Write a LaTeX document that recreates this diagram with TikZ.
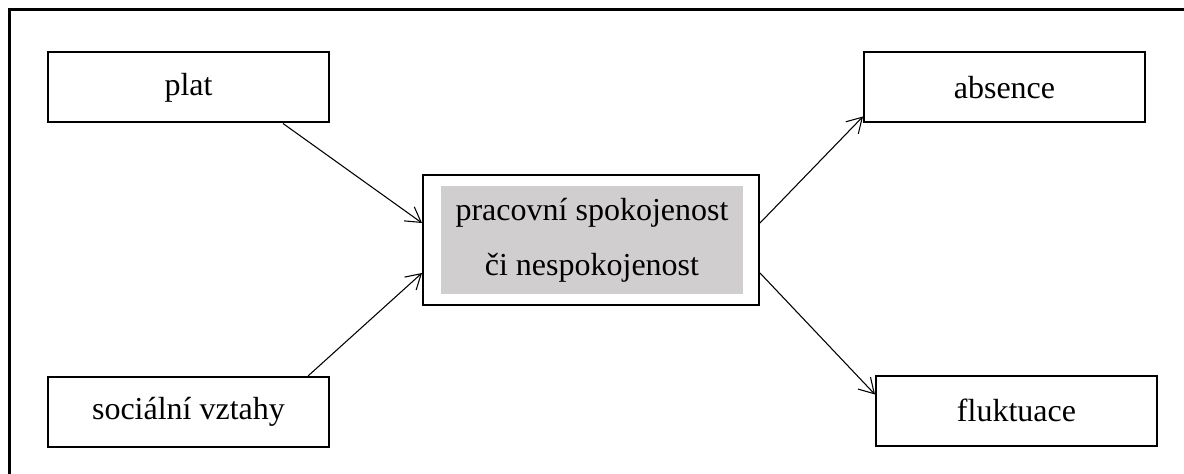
\documentclass[tikz,border=0pt]{standalone}
\usepackage{fontspec}
\setmainfont{Liberation Serif}
\usetikzlibrary{arrows.meta,calc}
\definecolor{boxgray}{RGB}{208,206,206}
\tikzset{
  box/.style={draw, line width=1.5pt, minimum width=210.75pt, minimum height=52.5pt, inner sep=0pt, font=\fontsize{24}{28}\selectfont},
  conn/.style={line width=0.8pt, -{Straight Barb[length=11pt,width=13pt,line width=0.8pt]}},
}
\begin{document}
\begin{tikzpicture}[x=0.75pt,y=-0.75pt]
\useasboundingbox (0,0) rectangle (1184,474);
\clip (0,0) rectangle (1184,474);
\fill[white] (0,0) rectangle (1184,474);
\draw[line width=2.25pt] (9,10) rectangle (1220,520);
\node[box] (p) at (188.5,87.5) {plat};
\node[box] (s) at (188.5,412) {sociální vztahy};
\node[box] (a) at (1004.5,87.5) {absence};
\node[box] (f) at (1016.5,410.5) {fluktuace};
\node[draw, line width=1.5pt, minimum width=252pt, minimum height=97.5pt, inner sep=0pt] (c) at (591,240) {};
\node[fill=boxgray, minimum width=226.5pt, minimum height=81pt, inner sep=0pt, align=center,
      font=\fontsize{24}{41}\selectfont] (g) at (592,240) {pracovní spokojenost\\či nespokojenost};
\draw[conn] ($(p.south west)+(236,0)$) -- ($(c.west)+(0,-17)$);
\draw[conn] ($(s.north west)+(261,0)$) -- ($(c.west)+(0,33)$);
\draw[conn] ($(c.east)+(0,-17)$) -- ($(a.south west)+(0,-7)$);
\draw[conn] ($(c.east)+(0,33)$) -- ($(f.north west)+(0,20)$);
\end{tikzpicture}
\end{document}
